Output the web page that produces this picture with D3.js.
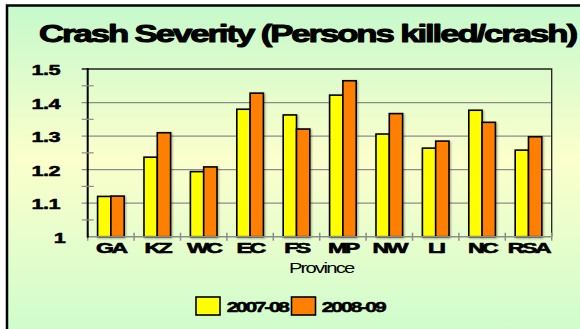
<!DOCTYPE html>
<html>
<head>
<meta charset="utf-8">
<script src="https://cdn.jsdelivr.net/npm/d3@7"></script>
<style>
  html, body { margin: 0; padding: 0; background: #fff; }
  svg { display: block; }
  text { font-family: "Liberation Sans", Arial, sans-serif; }
</style>
</head>
<body>
<svg id="chart" width="580" height="329"></svg>
<script>
// Crash severity by province, persons killed per crash
const provinces = ["GA", "KZ", "WC", "EC", "FS", "MP", "NW", "LI", "NC", "RSA"];
const seriesNames = ["2007-08", "2008-09"];
const values2007 = [1.12, 1.237, 1.194, 1.380, 1.363, 1.422, 1.306, 1.264, 1.377, 1.258];
const values2008 = [1.121, 1.310, 1.208, 1.428, 1.321, 1.465, 1.367, 1.285, 1.341, 1.298];
const yTicks = [1, 1.1, 1.2, 1.3, 1.4, 1.5];
const yMinorTicks = [1.05, 1.15, 1.25, 1.35, 1.45];
const colors = ["#ffff00", "#ff7f00"];

const svg = d3.select("#chart");

// wide, tightly set text: glyphs stretched horizontally, negative tracking
function wideText(parent, str, x, y, opts) {
  const g = parent.append("g").attr("transform", `translate(${x},${y}) scale(${opts.sx},1)`);
  const t = g.append("text")
    .attr("x", 0).attr("y", 0)
    .attr("text-anchor", opts.anchor || "start")
    .attr("font-size", opts.size)
    .attr("font-weight", opts.bold ? "bold" : "normal")
    .attr("letter-spacing", opts.ls || 0)
    .attr("fill", "#000")
    .text(str);
  if (opts.stroke) t.attr("stroke", "#000").attr("stroke-width", opts.stroke).attr("stroke-linejoin", "round");
  if (opts.width) {
    // fit the tracking so the string spans the given width
    t.attr("letter-spacing", 0);
    const w = t.node().getComputedTextLength();
    const n = str.length - 1;
    t.attr("letter-spacing", (opts.width / opts.sx - w) / n);
  }
  return t;
}

// background panel with vertical green-yellow-green wash
const defs = svg.append("defs");
const grad = defs.append("linearGradient").attr("id", "bg").attr("x1", 0).attr("y1", 0).attr("x2", 0).attr("y2", 1);
grad.append("stop").attr("offset", "0%").attr("stop-color", "#c6f9cc");
grad.append("stop").attr("offset", "45%").attr("stop-color", "#fbffcc");
grad.append("stop").attr("offset", "100%").attr("stop-color", "#ccfccc");

const shadow = defs.append("filter").attr("id", "sh").attr("x", "-20%").attr("y", "-20%").attr("width", "140%").attr("height", "140%");
shadow.append("feGaussianBlur").attr("in", "SourceAlpha").attr("stdDeviation", 0.9).attr("result", "b");
shadow.append("feOffset").attr("in", "b").attr("dx", 0.8).attr("dy", 0.8).attr("result", "o");
shadow.append("feComponentTransfer").attr("in", "o").attr("result", "s")
  .append("feFuncA").attr("type", "linear").attr("slope", 0.35);
const merge = shadow.append("feMerge");
merge.append("feMergeNode").attr("in", "s");
merge.append("feMergeNode").attr("in", "SourceGraphic");

svg.append("rect").attr("x", 7).attr("y", 5.5).attr("width", 580).attr("height", 340)
  .attr("fill", "url(#bg)").attr("stroke", "#000").attr("stroke-width", 2.5);

const plot = { left: 87.7, right: 551.7, top: 69, bottom: 236.7 };

const x = d3.scaleBand().domain(provinces).range([plot.left, plot.right])
  .paddingInner(0.427).paddingOuter(0.2135);
const xSub = d3.scaleBand().domain(seriesNames).range([0, x.bandwidth()]).padding(0);
const y = d3.scaleLinear().domain([1, 1.5]).range([plot.bottom, plot.top]);

// gridlines
svg.append("g").selectAll("line").data(yTicks.filter(v => v > 1 && v < 1.5)).join("line")
  .attr("x1", plot.left - 6).attr("x2", plot.right)
  .attr("y1", d => y(d)).attr("y2", d => y(d))
  .attr("stroke", "#8c8c8c").attr("stroke-width", 1.2);

// plot frame top/right
svg.append("path")
  .attr("d", `M${plot.left - 6},${plot.top}H${plot.right}V${plot.bottom}`)
  .attr("fill", "none").attr("stroke", "#222").attr("stroke-width", 1.3);

// bars
const series = [values2007, values2008];
const groups = svg.append("g").attr("filter", "url(#sh)").selectAll("g").data(series).join("g")
  .attr("fill", (d, i) => colors[i]);
groups.selectAll("rect")
  .data((d, i) => d.map((v, j) => ({ v, p: provinces[j], s: seriesNames[i] })))
  .join("rect")
  .attr("x", d => x(d.p) + xSub(d.s))
  .attr("y", d => y(d.v))
  .attr("width", xSub.bandwidth())
  .attr("height", d => y(1) - y(d.v))
  .attr("stroke", "#000").attr("stroke-width", 1.6);

// x axis with ticks between categories
const xAxisG = svg.append("g");
xAxisG.append("line").attr("x1", plot.left).attr("x2", plot.right)
  .attr("y1", plot.bottom).attr("y2", plot.bottom).attr("stroke", "#8c8c8c").attr("stroke-width", 1.5);
const step = x.step();
xAxisG.selectAll("line.tk").data(d3.range(provinces.length + 1)).join("line").attr("class", "tk")
  .attr("x1", i => plot.left + i * step).attr("x2", i => plot.left + i * step)
  .attr("y1", plot.bottom - 4).attr("y2", plot.bottom + 4)
  .attr("stroke", "#8c8c8c").attr("stroke-width", 1.5);
provinces.forEach(p => {
  wideText(xAxisG, p, x(p) + x.bandwidth() / 2, 253.3,
    { anchor: "middle", size: 14, bold: true, sx: 1.65, ls: -1.5, stroke: 0.6 });
});

// y axis labels, built from the same scale
const yAxis = d3.axisLeft(y).tickValues(yTicks).tickSize(0).tickPadding(0)
  .tickFormat(d => d3.format("")(+d.toFixed(1)));
const yG = svg.append("g").attr("transform", `translate(${plot.left},0)`).call(yAxis);
yG.select(".domain").remove();
yG.selectAll(".tick text").remove();
yG.selectAll(".tick").each(function (d) {
  const tick = d3.select(this);
  wideText(tick, yAxis.tickFormat()(d), d === 1 ? -22.5 : -27.7, 5.5,
    { anchor: "end", size: 15, bold: true, sx: 1.45, ls: -0.4, stroke: 0.5 });
});
svg.append("line").attr("x1", plot.left).attr("x2", plot.left)
  .attr("y1", plot.top - 1).attr("y2", plot.bottom + 1)
  .attr("stroke", "#000").attr("stroke-width", 2);
svg.append("g").selectAll("line").data(yMinorTicks).join("line")
  .attr("x1", plot.left - 6).attr("x2", plot.left + 6)
  .attr("y1", d => y(d)).attr("y2", d => y(d))
  .attr("stroke", "#8c8c8c").attr("stroke-width", 1.2);

// title
wideText(svg, "Crash Severity (Persons killed/crash)", 39, 41.7,
  { size: 24.5, bold: true, sx: 1.42, width: 539, stroke: 1 });

// axis title
wideText(svg, "Province", (plot.left + plot.right) / 2 + 1.5, 272.7,
  { anchor: "middle", size: 15, sx: 1.35, ls: -1.3 });

// legend
const legendItems = [
  { name: seriesNames[0], color: colors[0], bx: 196, tx: 226.7, tw: 63.3 },
  { name: seriesNames[1], color: colors[1], bx: 291.5, tx: 321.7, tw: 65 }
];
const lg = svg.append("g");
lg.selectAll("rect").data(legendItems).join("rect")
  .attr("x", d => d.bx).attr("y", 297).attr("width", 24).attr("height", 18)
  .attr("fill", d => d.color).attr("stroke", "#000").attr("stroke-width", 1.6);
legendItems.forEach(d => {
  wideText(lg, d.name, d.tx, 312, { size: 15, bold: true, sx: 1.4, width: d.tw, stroke: 0.5 });
});
</script>
</body>
</html>
